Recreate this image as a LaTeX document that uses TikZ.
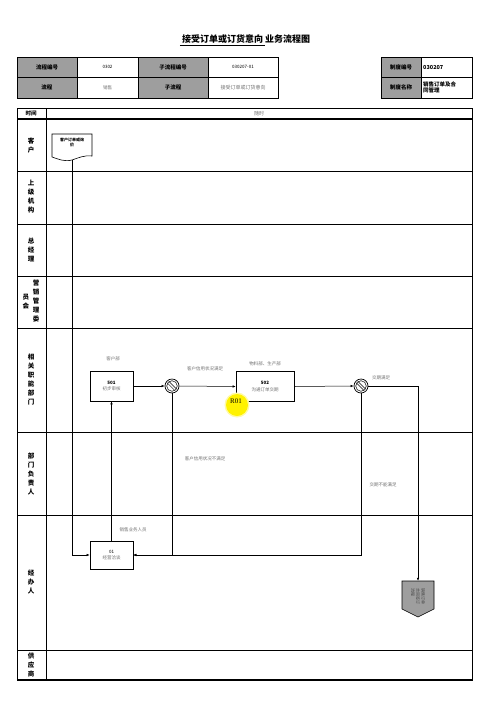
\documentclass[tikz,border=0pt]{standalone}
\usepackage{fontspec}
\setmainfont{Noto Sans CJK SC}
\newfontfamily\rfont{Liberation Serif}
\usetikzlibrary{arrows.meta,positioning,calc}
\definecolor{hgray}{HTML}{9E9E9E}
\definecolor{txtgray}{HTML}{707070}
\definecolor{rmark}{HTML}{FFF200}

\begin{document}
\begin{tikzpicture}[x=1pt, y=-1pt,
  every node/.style={font=\fontsize{4.5}{5.5}\selectfont, inner sep=0pt},
  cell/.style={font=\fontsize{5.5}{6.5}\selectfont\bfseries},
  lane/.style={font=\fontsize{6.5}{9}\selectfont\bfseries, align=center},
  proc/.style={draw, line width=0.7pt, minimum width=43pt, minimum height=30pt, align=center},
  dec/.style={circle, draw, line width=0.7pt, minimum size=14pt, fill=white},
  note/.style={text=txtgray},
  arr/.style={-{Latex[length=3pt,width=2.5pt]}, line width=0.5pt},
  grid/.style={line width=0.8pt},
]
\useasboundingbox (0,0) rectangle (496,702);

% title and header tables
\node[font=\fontsize{9}{10}\selectfont\bfseries] (title) at (245,40) {\underline{\ 接受订单或订货意向\ }业务流程图};
\fill[hgray] (17,57) rectangle (77,98) (138,57) rectangle (208,98) (381,57) rectangle (421,98);
\draw[grid] (17,57) rectangle (278,98) (17,77) -- (278,77)
  (77,57) -- (77,98) (138,57) -- (138,98) (208,57) -- (208,98);
\draw[grid] (381,57) rectangle (472,98) (381,77) -- (472,77) (421,57) -- (421,98);
\node[cell] (h11) at (47,67)    {流程编号};
\node       (h12) at (107.5,67) {0302};
\node[cell] (h13) at (173,67)   {子流程编号};
\node       (h14) at (243,67)   {030207-01};
\node[cell] (h21) at (47,87.5)  {流程};
\node[note] (h22) at (107.5,87.5) {销售};
\node[cell] (h23) at (173,87.5) {子流程};
\node[note, font=\fontsize{5}{6}\selectfont] (h24) at (243,87.5) {接受订单或订货意向};
\node[cell] (r11) at (401,67)   {制度编号};
\node[cell, anchor=west] (r12) at (423,67) {030207};
\node[cell] (r21) at (401,87.5) {制度名称};
\node[cell, anchor=west, align=left] (r22) at (423,87.5) {销售订单及合\\同管理};

% lanes
\draw[grid] (17,108) rectangle (472,680) (46,108) -- (46,680);
\draw[line width=1.8pt] (17,119) -- (472,119) (17,680) -- (472,680);
\foreach \y in {171,224,276,328,432,515,650}
  \draw[grid] (17,\y) -- (472,\y);
\node[cell] (time) at (31,113.5) {时间};
\node[note, font=\fontsize{5}{6}\selectfont] (anytime) at (259,113.5) {随时};
\node[lane] (l1) at (31,146) {客\\户};
\node[lane] (l2) at (31,197) {上\\级\\机\\构};
\node[lane] (l3) at (31,250) {总\\经\\理};
\node[lane] (l4a) at (36,301) {营\\销\\管\\理\\委};
\node[lane] (l4b) at (26,302) {员\\会};
\node[lane] (l5) at (31,380) {相\\关\\职\\能\\部\\门};
\node[lane] (l6) at (31,474) {部\\门\\负\\责\\人};
\node[lane] (l7) at (31,582) {经\\办\\人};
\node[lane] (l8) at (31,665) {供\\应\\商};

% document and off-page shapes
\draw[line width=0.6pt, fill=white] (52,157) -- (52,134) -- (92,134) -- (92,156)
  .. controls (84,155) and (78,158) .. (72,160) .. controls (64,162) and (58,159) .. (52,157);
\node[font=\fontsize{4}{5}\selectfont\bfseries, align=center, minimum width=40pt, minimum height=26pt] (doc) at (72,147) {客户订单或询\\价\\[4pt]};
\draw[line width=0.6pt, fill=hgray] (402,581) -- (434,581) -- (434,609) -- (418,617) -- (402,609) -- cycle;
\node[minimum width=32pt, minimum height=36pt] (off) at (418,599) {};
\node[rotate=-90, align=left, text=txtgray!60!black, font=\fontsize{4}{5.2}\selectfont] (offtxt) at (418,596) {销售订单\\合同签订\\流程};

% steps
\node[proc] (b501) at (111.5,386) {\textbf{501}\\[1pt]\textcolor{txtgray}{初步审核}};
\node[proc, minimum width=58pt] (b502) at (265,386.5) {\textbf{502}\\[1pt]\textcolor{txtgray}{沟通订单交期}};
\node[proc, minimum height=28pt] (b01) at (111.5,555) {01\\[1pt]\textcolor{txtgray}{经营洽谈}};
\node[dec] (d1) at (172,386) {};
\node[dec] (d2) at (361,386) {};
\foreach \d in {d1,d2} {
  \draw[line width=0.5pt] (\d) circle (5.3);
  \draw[line width=0.5pt] ($(\d)+(-4.6,-3.0)$) -- ($(\d)+(3.0,4.6)$)
    ($(\d)+(-3.0,-4.6)$) -- ($(\d)+(4.6,3.0)$);
}
\fill[rmark!35] (237,405) circle (12.5);
\fill[rmark] (237,405) circle (11);
\node[font=\rfont\fontsize{7}{8}\selectfont] (r01) at (236,401) {R01};

% labels
\node[note] (n1) at (113,359) {客户部};
\node[note] (n2) at (205,369) {客户信用状况满足};
\node[note] (n3) at (265,364) {物料部、生产部};
\node[note] (n4) at (381,378) {交期满足};
\node[note] (n5) at (205,459) {客户信用状况不满足};
\node[note] (n6) at (383,485) {交期不能满足};
\node[note] (n7) at (133,530) {销售业务人员};

% connectors
\draw[arr] (doc.south) |- (b01.west);
\draw[arr] (b01.north) -- (b501.south);
\draw[arr] (b501.east) -- (d1.west);
\draw[arr] (d1.east) -- (b502.west);
\draw[arr] (b502.east) -- (d2.west);
\draw[arr] (d1.south) |- (b01.east);
\draw[arr] (d2.south) |- (b01.east);
\draw[arr] (d2.east) -| (off.north);
\end{tikzpicture}
\end{document}
